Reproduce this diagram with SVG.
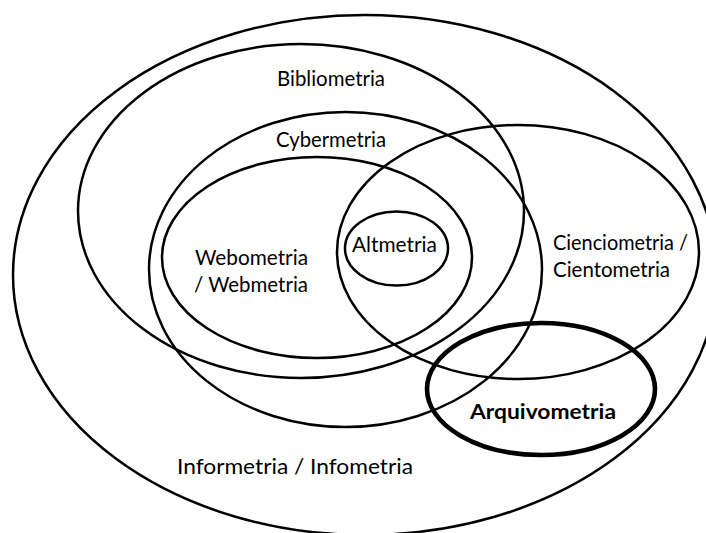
<svg xmlns="http://www.w3.org/2000/svg" width="706" height="533" viewBox="0 0 706 533">
<style>
.e{fill:none;stroke:#000;stroke-width:2.5}
.thick{stroke-width:4.6}
text{font-family:Lato,"Liberation Sans",sans-serif;font-size:21px;fill:#000}
.b{font-weight:bold}
</style>
<rect width="706" height="533" fill="#fff"/>
<g id="informetria">
<ellipse class="e" cx="365" cy="275" rx="352" ry="260"/>
<text x="177" y="474" textLength="236" lengthAdjust="spacingAndGlyphs">Informetria / Infometria</text>
</g>
<g id="bibliometria">
<ellipse class="e" cx="301" cy="211" rx="223" ry="167"/>
<text x="277" y="86" textLength="108" lengthAdjust="spacingAndGlyphs">Bibliometria</text>
</g>
<g id="cybermetria">
<ellipse class="e" cx="345.5" cy="269.5" rx="196.5" ry="157.5"/>
<text x="276" y="147" textLength="110" lengthAdjust="spacingAndGlyphs">Cybermetria</text>
</g>
<g id="webometria">
<ellipse class="e" cx="317" cy="257.5" rx="155" ry="100.5"/>
<text x="195" y="265" textLength="113" lengthAdjust="spacingAndGlyphs">Webometria</text>
<text x="194" y="292" textLength="114" lengthAdjust="spacingAndGlyphs">/ Webmetria</text>
</g>
<g id="cienciometria">
<ellipse class="e" cx="518" cy="252" rx="181" ry="127"/>
<text x="553" y="250" textLength="135" lengthAdjust="spacingAndGlyphs">Cienciometria /</text>
<text x="553" y="277" textLength="117" lengthAdjust="spacingAndGlyphs">Cientometria</text>
</g>
<g id="altmetria">
<ellipse class="e" cx="396.5" cy="248.5" rx="51.5" ry="37"/>
<text x="352" y="252" textLength="85" lengthAdjust="spacingAndGlyphs">Altmetria</text>
</g>
<g id="arquivometria">
<ellipse class="e thick" cx="541" cy="389" rx="114" ry="66"/>
<text class="b" x="470" y="419" textLength="146" lengthAdjust="spacingAndGlyphs">Arquivometria</text>
</g>
<g id="connectors"/>
</svg>
